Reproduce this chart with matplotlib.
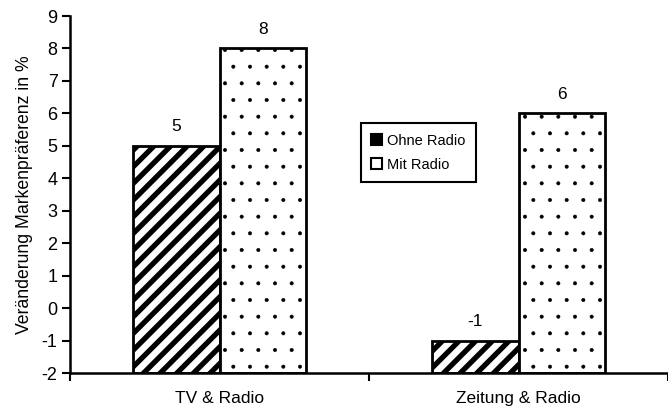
import matplotlib
matplotlib.use("Agg")
import matplotlib.pyplot as plt
from matplotlib.patches import Patch
import numpy as np

categories = ["TV & Radio", "Zeitung & Radio"]
series_names = ["Ohne Radio", "Mit Radio"]
ohne_radio = [5, -1]
mit_radio = [8, 6]
y_ticks = list(range(-2, 10))

plt.rcParams['font.family'] = ['Liberation Sans', 'DejaVu Sans']
plt.rcParams['hatch.linewidth'] = 3.8

fig = plt.figure(figsize=(6.68, 4.15), dpi=100)
ax = fig.add_axes([0.1048, 0.1012, 0.8952, 0.8602])

x = np.arange(len(categories))
w = 0.29
base = -2
b1 = ax.bar(x - w/2, np.array(ohne_radio) - base, w, bottom=base, color='white',
            edgecolor='black', hatch='//', linewidth=2)
b2 = ax.bar(x + w/2, np.array(mit_radio) - base, w, bottom=base, color='white',
            edgecolor='black', hatch='.', linewidth=2)
for p in b2:
    if hasattr(p, 'set_hatch_linewidth'):
        p.set_hatch_linewidth(0.4)

for xi, v in zip(x - w/2, ohne_radio):
    ax.text(xi, v + 0.35, str(v), ha='center', va='bottom', fontsize=12.5)
for xi, v in zip(x + w/2, mit_radio):
    ax.text(xi, v + 0.35, str(v), ha='center', va='bottom', fontsize=12.5)

ax.set_xlim(-0.5, 1.5)
ax.set_ylim(-2, 9)
ax.set_yticks(y_ticks)
ax.set_yticklabels([str(t) for t in y_ticks], fontsize=13)
ax.set_xticks([-0.5, 0.5, 1.5])
ax.set_xticklabels([])
ax.set_xticks(x, minor=True)
ax.set_xticklabels(categories, minor=True, fontsize=12.5)
ax.tick_params(axis='x', which='minor', length=0, pad=13)
ax.tick_params(axis='x', which='major', length=6, width=1.5, direction='out')
ax.tick_params(axis='y', length=6, width=1.5, direction='out', pad=3)
ax.spines['top'].set_visible(False)
ax.spines['right'].set_visible(False)
ax.spines['left'].set_linewidth(1.8)
ax.spines['bottom'].set_linewidth(1.8)
ax.set_ylabel("Veränderung Markenpräferenz in %", fontsize=12.7, labelpad=6)

handles = [Patch(facecolor='black', edgecolor='black', linewidth=1.5),
           Patch(facecolor='white', edgecolor='black', linewidth=1.5)]
leg = ax.legend(handles, series_names, loc='upper left', bbox_to_anchor=(0.487, 0.699),
                fontsize=10.5, frameon=True, fancybox=False, edgecolor='black',
                handlelength=0.75, handleheight=0.75, handletextpad=0.35,
                borderpad=0.7, labelspacing=0.7, framealpha=1, borderaxespad=0)
leg.get_frame().set_linewidth(1.5)

fig.savefig("out.png", dpi=100)
